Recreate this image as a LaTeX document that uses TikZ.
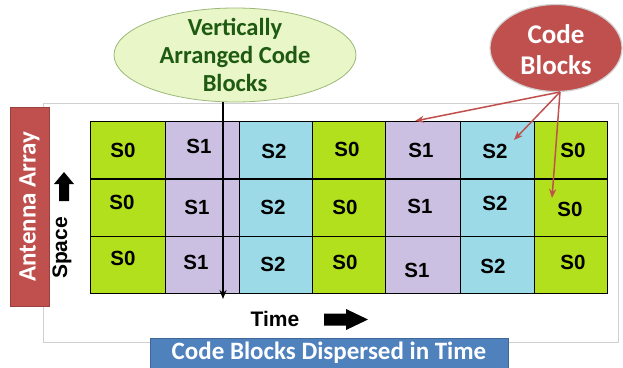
\documentclass[tikz,border=0pt]{standalone}
\usepackage{fontspec}
\setmainfont{Carlito}
\newfontfamily\arialf{Liberation Sans}
\usetikzlibrary{shapes.geometric,arrows.meta}
\definecolor{cgreen}{HTML}{B2E01C}
\definecolor{cpurple}{HTML}{CBC0E2}
\definecolor{cblue}{HTML}{9CDAE8}
\definecolor{cred}{HTML}{C0504D}
\definecolor{cbluebox}{HTML}{4F81BD}
\definecolor{ellfill}{HTML}{E8F6C8}
\definecolor{elldraw}{HTML}{9DB87A}
\definecolor{elltext}{HTML}{1E5A12}
\definecolor{frame}{HTML}{D0D0D0}
\begin{document}
\begin{tikzpicture}[x=1pt,y=-1pt,
  cell/.style={draw=black,line width=1.2pt,anchor=north west,minimum width=#1,minimum height=57.3pt,inner sep=0pt},
  lbl/.style={font=\arialf\bfseries\fontsize{20.5}{22}\selectfont,inner sep=0pt},
  redarrow/.style={draw=cred,line width=1.5pt,-{Stealth[length=9pt,width=7pt]}},
  blockarrow/.style={fill=black,draw=none}]
\useasboundingbox (0,0) rectangle (623,367);
% frame
\node[draw=frame,line width=0.8pt,minimum width=575pt,minimum height=239pt,anchor=north west,inner sep=0pt] (frame) at (43,103) {};
% grid cells
\foreach \r/\y in {1/121,2/178.3,3/235.6}{
  \foreach \c/\x/\w/\col in {1/90/75/cgreen,2/165/74/cpurple,3/239/73/cblue,4/312/73/cgreen,5/385/75/cpurple,6/460/74/cblue,7/534/73/cgreen}{
    \node[cell=\w pt,fill=\col] (c\r\c) at (\x,\y) {};
  }
}
% labels
\foreach \n/\t/\x/\y in {
 a11/S0/123/150, a12/S1/199/146, a13/S2/274/151, a14/S0/347/149, a15/S1/421/150, a16/S2/495/151, a17/S0/573/150,
 a21/S0/122/202, a22/S1/197/207, a23/S2/273/207, a24/S0/345/207, a25/S1/420/206, a26/S2/495/203, a27/S0/570/209,
 a31/S0/123/258, a32/S1/196/262, a33/S2/273/264, a34/S0/345/262, a35/S1/417/270, a36/S2/493/266, a37/S0/573/262}{
  \node[lbl] (\n) at (\x,\y) {\t};
}
% antenna array
\node[fill=cred,draw=cred!80!black,line width=0.6pt,minimum width=39pt,minimum height=199pt,inner sep=0pt] (ant) at (29.5,206.5) {};
\node[rotate=90,text=white,font=\bfseries\fontsize{25}{27}\selectfont] (antt) at (ant.center) {Antenna Array};
% space
\node[rotate=90,font=\arialf\bfseries\fontsize{21}{23}\selectfont,inner sep=0pt] (space) at (62,248) {Space};
\fill[blockarrow] (59,201) -- (59,184) -- (54,184) -- (64,172) -- (74,184) -- (69,184) -- (69,201) -- cycle;
% time
\node[font=\arialf\bfseries\fontsize{21}{23}\selectfont,inner sep=0pt] (time) at (275,319) {Time};
\fill[blockarrow] (324,313.5) -- (346,313.5) -- (346,309) -- (368,319.5) -- (346,330) -- (346,325.5) -- (324,325.5) -- cycle;
% bottom box
\node[fill=cbluebox,draw=cbluebox!80!black,line width=0.6pt,minimum width=358pt,minimum height=32pt,inner sep=0pt] (bottom) at (329,354) {};
\node[text=white,font=\bfseries\fontsize{25}{27}\selectfont] (bottomt) at (329,353) {Code Blocks Dispersed in Time};
% green ellipse
\node[ellipse,fill=ellfill,draw=elldraw,line width=0.8pt,minimum width=242pt,minimum height=94pt,inner sep=0pt] (vell) at (235,55) {};
\node[align=center,text=elltext,font=\bfseries\fontsize{24.5}{28}\selectfont] (vtext) at (235,55) {Vertically\\Arranged Code\\Blocks};
\coordinate (vtop) at (223,101.5);
\coordinate (vbot) at (223,299);
\draw[line width=1.6pt,-{Stealth[length=9pt,width=7pt]}] (vtop) -- (vbot);
% red ellipse
\node[ellipse,fill=cred,draw=frame,line width=1.2pt,minimum width=132pt,minimum height=87pt,inner sep=0pt] (cb) at (556,48) {};
\node[align=center,text=white,font=\bfseries\fontsize{27}{31}\selectfont] (cbt) at (556,50) {Code\\Blocks};
\coordinate (cbs) at (560,92);
\coordinate (t1) at (415,121);
\coordinate (t2) at (514,140);
\coordinate (t3) at (552,198);
\draw[redarrow] (cbs) -- (t1);
\draw[redarrow] (cbs) -- (t2);
\draw[redarrow] (cbs) -- (t3);
\end{tikzpicture}
\end{document}
